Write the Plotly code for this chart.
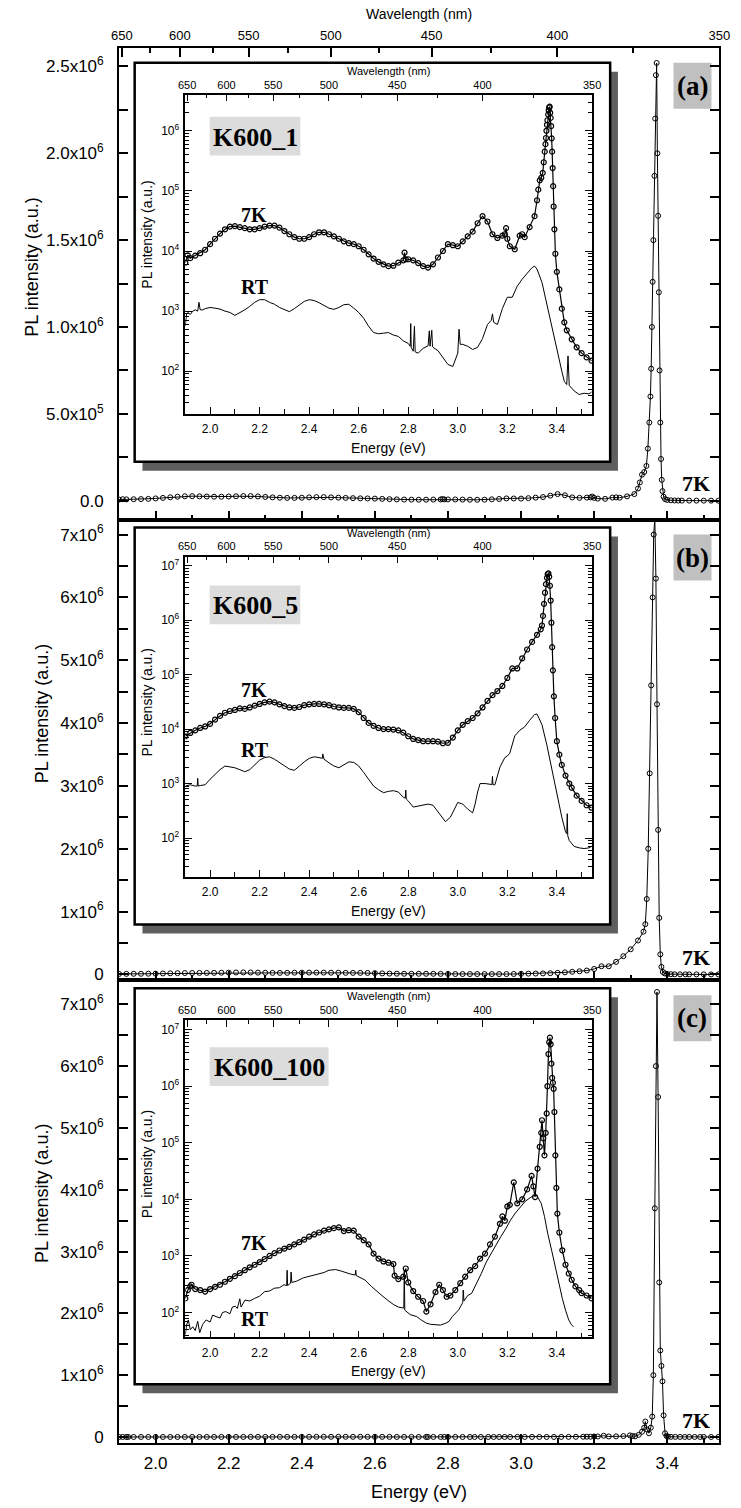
import plotly.graph_objects as go

HC = 1239.84  # eV * nm, converts photon energy to wavelength

# ---------------- PL spectra: (energy in eV, PL intensity in a.u.) ----------------
k600_1_7k = [
    (1.90, 6.4e3), (1.91, 8.5e3), (1.92, 7.6e3), (1.94, 8.4e3), (1.96, 9.2e3), (1.98, 1.05e4),
    (2.00, 1.3e4), (2.02, 1.6e4), (2.04, 1.95e4), (2.06, 2.3e4), (2.08, 2.55e4), (2.10, 2.6e4),
    (2.12, 2.5e4), (2.14, 2.4e4), (2.16, 2.3e4), (2.18, 2.3e4), (2.20, 2.4e4), (2.22, 2.55e4),
    (2.24, 2.65e4), (2.26, 2.65e4), (2.28, 2.45e4), (2.30, 2.15e4), (2.32, 1.9e4), (2.34, 1.7e4),
    (2.36, 1.6e4), (2.38, 1.6e4), (2.40, 1.7e4), (2.42, 1.9e4), (2.44, 2.05e4), (2.46, 2.05e4),
    (2.48, 1.9e4), (2.50, 1.75e4), (2.52, 1.6e4), (2.54, 1.45e4), (2.56, 1.35e4), (2.58, 1.3e4),
    (2.60, 1.2e4), (2.62, 1.05e4), (2.64, 8.8e3), (2.66, 7.5e3), (2.68, 6.6e3), (2.70, 6.0e3),
    (2.72, 5.6e3), (2.74, 5.7e3), (2.76, 6.4e3), (2.78, 7.0e3), (2.785, 9.4e3), (2.79, 7.3e3),
    (2.80, 7.3e3), (2.82, 7.0e3), (2.84, 6.3e3), (2.86, 5.6e3), (2.88, 5.3e3), (2.90, 6.0e3),
    (2.92, 7.8e3), (2.94, 1.0e4), (2.96, 1.3e4), (2.98, 1.25e4), (3.00, 1.2e4), (3.02, 1.45e4),
    (3.04, 1.75e4), (3.06, 2.1e4), (3.08, 2.9e4), (3.10, 3.8e4), (3.12, 3.1e4), (3.14, 1.9e4),
    (3.16, 1.65e4), (3.18, 1.8e4), (3.19, 1.9e4), (3.195, 2.4e4), (3.20, 1.6e4), (3.21, 1.2e4),
    (3.23, 1.07e4), (3.25, 1.8e4), (3.26, 1.9e4), (3.27, 1.7e4), (3.29, 2.5e4), (3.31, 3.8e4),
    (3.32, 7.0e4), (3.325, 1.05e5), (3.331, 1.5e5), (3.337, 1.65e5), (3.343, 2.0e5), (3.347, 3.0e5),
    (3.351, 4.5e5), (3.354, 6.0e5), (3.356, 7.6e5), (3.358, 1.0e6), (3.360, 1.26e6), (3.362, 1.5e6),
    (3.365, 1.87e6), (3.367, 2.2e6), (3.369, 2.45e6), (3.371, 2.52e6), (3.373, 2.0e6), (3.375, 1.64e6),
    (3.377, 1.2e6), (3.379, 7.5e5), (3.381, 4.5e5), (3.383, 2.4e5), (3.385, 1.2e5), (3.387, 5.5e4),
    (3.390, 2.3e4), (3.394, 9.0e3), (3.40, 4.5e3), (3.41, 2.3e3), (3.42, 1.1e3), (3.43, 6.5e2),
    (3.44, 4.8e2), (3.46, 3.4e2), (3.48, 2.5e2), (3.50, 2.0e2), (3.52, 1.7e2), (3.54, 1.5e2),
]
k600_1_rt = [
    (1.90, 570), (1.905, 900), (1.91, 950), (1.92, 880), (1.93, 1000), (1.94, 1050), (1.95, 1000),
    (1.955, 1400), (1.96, 1050), (1.97, 1050), (1.98, 1100), (2.00, 1150), (2.02, 1120), (2.04, 1080),
    (2.06, 1000), (2.08, 950), (2.10, 850), (2.12, 930), (2.14, 1050), (2.16, 1200), (2.18, 1400),
    (2.20, 1550), (2.22, 1550), (2.24, 1400), (2.26, 1300), (2.28, 1150), (2.30, 1050), (2.32, 980),
    (2.34, 1100), (2.36, 1280), (2.38, 1450), (2.40, 1550), (2.42, 1500), (2.44, 1380), (2.46, 1250),
    (2.48, 1120), (2.50, 1070), (2.52, 1150), (2.54, 1280), (2.56, 1300), (2.58, 1120), (2.60, 950),
    (2.62, 760), (2.64, 560), (2.66, 440), (2.68, 420), (2.70, 430), (2.72, 440), (2.74, 400),
    (2.76, 380), (2.78, 320), (2.80, 290), (2.808, 260), (2.81, 620), (2.812, 250), (2.82, 215),
    (2.825, 560), (2.828, 210), (2.84, 200), (2.86, 240), (2.88, 265), (2.885, 470), (2.888, 260),
    (2.895, 480), (2.898, 255), (2.90, 250), (2.92, 220), (2.94, 170), (2.96, 130), (2.98, 120),
    (3.00, 200), (3.005, 500), (3.01, 280), (3.02, 280), (3.04, 260), (3.06, 230), (3.08, 250),
    (3.10, 350), (3.12, 600), (3.135, 700), (3.14, 900), (3.145, 650), (3.16, 600), (3.18, 1100),
    (3.20, 1700), (3.22, 1700), (3.24, 2600), (3.26, 3400), (3.28, 4300), (3.30, 5300), (3.31, 5600),
    (3.32, 5000), (3.34, 3000), (3.36, 1250), (3.38, 580), (3.40, 230), (3.42, 100), (3.43, 68),
    (3.44, 60), (3.445, 180), (3.45, 58), (3.47, 47), (3.49, 41), (3.51, 43), (3.53, 42), (3.54, 45),
]
k600_5_7k = [
    (1.90, 7.4e3), (1.92, 8.5e3), (1.94, 9.5e3), (1.96, 1.05e4), (1.98, 1.12e4), (2.00, 1.25e4),
    (2.02, 1.5e4), (2.04, 1.75e4), (2.06, 2.0e4), (2.08, 2.15e4), (2.10, 2.25e4), (2.12, 2.4e4),
    (2.14, 2.35e4), (2.16, 2.5e4), (2.18, 2.7e4), (2.20, 2.9e4), (2.22, 3.1e4), (2.24, 3.2e4),
    (2.26, 3.1e4), (2.28, 2.85e4), (2.30, 2.65e4), (2.32, 2.5e4), (2.34, 2.45e4), (2.36, 2.55e4),
    (2.38, 2.75e4), (2.40, 2.85e4), (2.42, 2.9e4), (2.44, 2.9e4), (2.46, 2.85e4), (2.48, 2.75e4),
    (2.50, 2.6e4), (2.52, 2.5e4), (2.54, 2.45e4), (2.56, 2.45e4), (2.58, 2.35e4), (2.60, 2.05e4),
    (2.62, 1.6e4), (2.64, 1.3e4), (2.66, 1.15e4), (2.68, 1.05e4), (2.70, 1.0e4), (2.72, 1.0e4),
    (2.74, 9.8e3), (2.76, 9.5e3), (2.78, 8.6e3), (2.80, 7.4e3), (2.82, 6.6e3), (2.84, 6.3e3),
    (2.86, 6.0e3), (2.88, 6.0e3), (2.90, 6.0e3), (2.92, 5.9e3), (2.94, 5.5e3), (2.96, 5.6e3),
    (2.98, 7.0e3), (3.00, 9.5e3), (3.02, 1.2e4), (3.04, 1.4e4), (3.06, 1.6e4), (3.08, 1.95e4),
    (3.10, 2.5e4), (3.12, 3.3e4), (3.14, 4.2e4), (3.16, 5.0e4), (3.18, 6.2e4), (3.20, 8.7e4),
    (3.22, 1.3e5), (3.24, 1.3e5), (3.26, 2.0e5), (3.28, 2.9e5), (3.30, 4.0e5), (3.32, 5.4e5),
    (3.335, 6.8e5), (3.340, 8.0e5), (3.344, 1.2e6), (3.348, 2.0e6), (3.352, 3.2e6), (3.356, 4.6e6),
    (3.360, 6.0e6), (3.363, 7.0e6), (3.366, 7.25e6), (3.369, 6.3e6), (3.372, 4.3e6), (3.375, 2.3e6),
    (3.378, 9.0e5), (3.381, 3.2e5), (3.384, 1.2e5), (3.388, 4.0e4), (3.393, 1.6e4), (3.40, 6.0e3),
    (3.41, 3.4e3), (3.42, 2.2e3), (3.435, 1.4e3), (3.45, 1.0e3), (3.46, 840), (3.48, 600),
    (3.50, 480), (3.52, 400), (3.54, 360),
]
k600_5_rt = [
    (1.90, 900), (1.92, 950), (1.94, 900), (1.948, 900), (1.95, 1250), (1.952, 900), (1.96, 920),
    (1.98, 950), (2.00, 1200), (2.02, 1500), (2.04, 1800), (2.06, 2100), (2.08, 2050), (2.10, 1950),
    (2.12, 1800), (2.14, 1650), (2.16, 1800), (2.18, 2200), (2.20, 2700), (2.22, 3000), (2.24, 3100),
    (2.26, 2800), (2.28, 2450), (2.30, 2100), (2.32, 1850), (2.34, 1750), (2.36, 2100), (2.38, 2500),
    (2.40, 2900), (2.42, 3100), (2.44, 3000), (2.453, 2900), (2.455, 3500), (2.457, 2850), (2.46, 2800),
    (2.48, 2400), (2.50, 2100), (2.52, 1950), (2.54, 2200), (2.56, 2500), (2.58, 2450), (2.60, 2100),
    (2.62, 1600), (2.64, 1200), (2.66, 900), (2.68, 770), (2.70, 680), (2.72, 720), (2.74, 740),
    (2.76, 700), (2.78, 560), (2.788, 540), (2.79, 760), (2.792, 520), (2.80, 480), (2.82, 370),
    (2.84, 390), (2.86, 400), (2.88, 420), (2.90, 400), (2.92, 300), (2.94, 220), (2.95, 200),
    (2.97, 240), (2.99, 360), (3.00, 450), (3.02, 420), (3.04, 340), (3.06, 290), (3.07, 420),
    (3.08, 700), (3.09, 1000), (3.11, 1000), (3.13, 950), (3.138, 960), (3.14, 1350), (3.142, 950),
    (3.15, 950), (3.17, 2000), (3.19, 3000), (3.20, 3200), (3.21, 3600), (3.23, 7500), (3.25, 9500),
    (3.27, 1.1e4), (3.29, 1.45e4), (3.31, 1.85e4), (3.32, 1.9e4), (3.34, 1.2e4), (3.36, 5000),
    (3.38, 1800), (3.40, 650), (3.42, 240), (3.435, 130), (3.44, 120), (3.442, 280), (3.444, 110),
    (3.45, 90), (3.47, 70), (3.49, 66), (3.51, 64), (3.53, 66), (3.54, 70),
]
k600_100_7k = [
    (1.90, 178), (1.91, 250), (1.92, 290), (1.925, 310), (1.94, 260), (1.96, 250), (1.98, 235),
    (2.00, 260), (2.02, 285), (2.04, 310), (2.06, 350), (2.08, 395), (2.10, 440), (2.12, 500),
    (2.14, 560), (2.16, 630), (2.18, 700), (2.20, 780), (2.22, 880), (2.24, 1000), (2.26, 1120),
    (2.28, 1250), (2.30, 1350), (2.32, 1450), (2.34, 1600), (2.36, 1750), (2.38, 1950), (2.40, 2200),
    (2.42, 2400), (2.44, 2600), (2.46, 2800), (2.48, 2950), (2.50, 3100), (2.52, 3200), (2.54, 2750),
    (2.56, 2850), (2.58, 2800), (2.60, 2200), (2.62, 1900), (2.64, 1600), (2.66, 1100), (2.68, 900),
    (2.70, 800), (2.72, 760), (2.74, 720), (2.745, 450), (2.76, 390), (2.78, 430), (2.79, 600),
    (2.80, 340), (2.82, 240), (2.84, 190), (2.86, 160), (2.873, 104), (2.89, 140), (2.91, 230),
    (2.925, 310), (2.94, 250), (2.955, 190), (2.97, 200), (2.99, 250), (3.01, 330), (3.03, 430),
    (3.05, 560), (3.07, 660), (3.09, 900), (3.11, 1100), (3.13, 1600), (3.15, 2200), (3.17, 3700),
    (3.18, 5000), (3.19, 4200), (3.20, 7500), (3.21, 8000), (3.226, 2.0e4), (3.24, 8500),
    (3.26, 1.0e4), (3.28, 1.5e4), (3.298, 2.6e4), (3.305, 1.7e4), (3.312, 1.1e4), (3.322, 3.5e4),
    (3.331, 8.5e4), (3.337, 1.5e5), (3.340, 2.5e5), (3.345, 1.2e5), (3.350, 6.0e4), (3.355, 1.5e5),
    (3.359, 3.3e5), (3.362, 1.0e6), (3.366, 3.7e6), (3.369, 6.0e6), (3.372, 7.2e6), (3.375, 5.5e6),
    (3.378, 2.5e6), (3.381, 1.4e6), (3.384, 1.15e6), (3.387, 9.0e5), (3.390, 3.5e5), (3.394, 6.0e4),
    (3.398, 1.6e4), (3.402, 5600), (3.41, 2600), (3.422, 1260), (3.435, 700), (3.448, 490),
    (3.46, 380), (3.475, 290), (3.49, 250), (3.50, 220), (3.52, 200), (3.54, 178),
]
k600_100_rt = [
    (1.90, 41), (1.905, 60), (1.912, 74), (1.92, 50), (1.93, 56), (1.94, 48), (1.95, 70), (1.958, 44),
    (1.97, 62), (1.984, 74), (2.00, 68), (2.01, 90), (2.024, 85), (2.04, 80), (2.05, 100), (2.063, 104),
    (2.08, 95), (2.09, 125), (2.102, 129), (2.11, 118), (2.12, 175), (2.125, 125), (2.141, 166),
    (2.16, 160), (2.18, 178), (2.20, 195), (2.22, 234), (2.24, 240), (2.259, 269), (2.28, 275),
    (2.298, 310), (2.309, 300), (2.311, 560), (2.313, 300), (2.325, 330), (2.327, 520), (2.33, 340),
    (2.35, 360), (2.376, 410), (2.40, 440), (2.43, 480), (2.46, 510), (2.48, 560), (2.507, 575),
    (2.53, 540), (2.546, 510), (2.566, 480), (2.586, 460), (2.588, 560), (2.59, 450), (2.61, 410),
    (2.625, 377), (2.651, 290), (2.67, 250), (2.69, 206), (2.716, 166), (2.742, 137), (2.76, 125),
    (2.782, 120), (2.784, 560), (2.786, 110), (2.808, 92), (2.834, 85), (2.85, 75), (2.873, 65),
    (2.89, 62), (2.912, 60), (2.93, 60), (2.952, 65), (2.965, 70), (2.978, 85), (3.004, 112),
    (3.02, 150), (3.022, 250), (3.025, 160), (3.04, 200), (3.056, 218), (3.075, 320), (3.095, 490),
    (3.115, 780), (3.135, 1120), (3.155, 1600), (3.174, 2200), (3.195, 3100), (3.213, 4300),
    (3.232, 5700), (3.252, 7400), (3.272, 9200), (3.292, 1.07e4), (3.305, 1.15e4), (3.318, 1.18e4),
    (3.337, 8500), (3.35, 5000), (3.363, 2500), (3.38, 1200), (3.396, 565), (3.41, 300), (3.422, 178),
    (3.435, 110), (3.448, 74), (3.458, 62), (3.467, 56),
]

sample_names = ["K600_1", "K600_5", "K600_100"]
panel_tags = ["(a)", "(b)", "(c)"]
spectra_7k = [k600_1_7k, k600_5_7k, k600_100_7k]
spectra_rt = [k600_1_rt, k600_5_rt, k600_100_rt]

# ---------------- tick labels ----------------
wl_major = [650, 600, 550, 500, 450, 400, 350]
wl_minor = [625, 575, 525, 475, 425, 375]
main_tickvals = [
    [0, 5e5, 1e6, 1.5e6, 2e6, 2.5e6],
    [0, 1e6, 2e6, 3e6, 4e6, 5e6, 6e6, 7e6],
    [0, 1e6, 2e6, 3e6, 4e6, 5e6, 6e6, 7e6],
]
main_ticktext = [
    ["0.0", "5.0x10<sup>5</sup>", "1.0x10<sup>6</sup>", "1.5x10<sup>6</sup>",
     "2.0x10<sup>6</sup>", "2.5x10<sup>6</sup>"],
    ["0"] + [f"{k}x10<sup>6</sup>" for k in range(1, 8)],
    ["0"] + [f"{k}x10<sup>6</sup>" for k in range(1, 8)],
]
main_minorvals = [
    [2.5e5, 7.5e5, 1.25e6, 1.75e6, 2.25e6],
    [5e5, 1.5e6, 2.5e6, 3.5e6, 4.5e6, 5.5e6, 6.5e6],
    [5e5, 1.5e6, 2.5e6, 3.5e6, 4.5e6, 5.5e6, 6.5e6],
]
inset_tickvals = [1e2, 1e3, 1e4, 1e5, 1e6, 1e7]
inset_ticktext = [f"10<sup>{d}</sup>" for d in range(2, 8)]
inset_minorvals = [k * 10 ** d for d in range(1, 8) for k in range(2, 10)]

# ---------------- page geometry (pixels) ----------------
W, H = 741, 1508
SANS = "Liberation Sans, Arial, sans-serif"
SERIF = "Liberation Serif, Times New Roman, serif"


def fx(px):
    return px / W


def fy(py):
    return 1 - py / H


E_RANGE = [1.9, HC / 350]
MAIN_X = (114, 730)
MAIN_Y = [(48, 521), (521, 983), (983, 1447)]
MAIN_YRANGE = [(-0.109e6, 2.607e6), (-0.095e6, 7.238e6), (-0.10e6, 7.387e6)]
MAIN_YTITLE = [(25, 268), (35, 716), (35, 1197)]
TAG_BOX = [(683, 63, 722, 109), (683, 536, 722, 582), (683, 998, 722, 1044)]
MAIN_7K = [(706, 485), (706, 960), (706, 1424)]

INSET_BOX = [(130, 63, 618, 463), (130, 529, 618, 927), (130, 991, 618, 1388)]
INSET_X = (182, 599.5)
INSET_Y = [(95, 415), (558, 879), (1022.7, 1341)]
INSET_LOGRANGE = [(1.29, 6.6), (1.29, 7.17), (1.56, 7.17)]
INSET_YTITLE = [235, 704, 1167]
NAME_BOX = [(207, 117, 300, 156), (207, 587, 300, 626), (207, 1050, 329, 1089)]
INSET_7K = [(252, 216), (252, 692), (252, 1246)]
INSET_RT = [(253, 288), (253, 752), (253, 1323)]

SHADOW = "#5f5f5f"


def axname(prefix, n):
    return prefix if n == 1 else f"{prefix}{n}"


def axkey(prefix, n):
    return f"{prefix}axis" if n == 1 else f"{prefix}axis{n}"


fig = go.Figure()
layout = {}
shapes = []
annotations = []


def text(s, x, y, size, family=SANS, bold=False, angle=0):
    annotations.append(dict(
        text=s, x=fx(x), y=fy(y), xref="paper", yref="paper", showarrow=False,
        xanchor="center", yanchor="middle", textangle=angle,
        font=dict(size=size, family=family, color="black", weight="bold" if bold else "normal"),
    ))


def rect(x0, y0, x1, y1, fill, line_w=0):
    shapes.append(dict(
        type="rect", xref="paper", yref="paper", layer="below",
        x0=fx(x0), x1=fx(x1), y0=fy(y1), y1=fy(y0), fillcolor=fill,
        line=dict(color="black", width=line_w) if line_w else dict(width=0),
    ))


# ---------------- main panels: linear intensity, 7K spectra ----------------
for i in range(3):
    n = i + 1
    e = [p[0] for p in spectra_7k[i]]
    v = [p[1] for p in spectra_7k[i]]
    fig.add_trace(go.Scatter(
        x=e, y=v, xaxis=axname("x", n), yaxis=axname("y", n), mode="lines+markers",
        line=dict(color="black", width=1),
        marker=dict(symbol="circle-open", size=5, color="black", line=dict(width=1)),
        showlegend=False, hoverinfo="skip",
    ))
    top, bot = MAIN_Y[i]
    layout[axkey("x", n)] = dict(
        domain=[fx(MAIN_X[0]), fx(MAIN_X[1])], range=E_RANGE, anchor=axname("y", n),
        showline=True, linecolor="black", linewidth=2, mirror=True,
        ticks="inside", ticklen=9, tickwidth=1.5, tickcolor="black",
        tickmode="linear", tick0=2.0, dtick=0.2,
        minor=dict(ticks="inside", ticklen=5, tickwidth=1.5, tickcolor="black", tick0=2.0, dtick=0.1),
        showticklabels=(i == 2), tickformat=".1f", ticklabelstandoff=3,
        tickfont=dict(size=17, family=SANS, color="black"),
        showgrid=False, zeroline=False,
    )
    layout[axkey("y", n)] = dict(
        domain=[fy(bot), fy(top)], range=list(MAIN_YRANGE[i]), anchor=axname("x", n),
        showline=True, linecolor="black", linewidth=2, mirror="ticks",
        ticks="inside", ticklen=9, tickwidth=1.5, tickcolor="black",
        tickmode="array", tickvals=main_tickvals[i], ticktext=main_ticktext[i],
        minor=dict(ticks="inside", ticklen=9, tickwidth=1.5, tickcolor="black",
                   tickmode="array", tickvals=main_minorvals[i]),
        ticklabelstandoff=10, tickfont=dict(size=17, family=SANS, color="black"),
        showgrid=False, zeroline=False,
    )
    text("PL intensity (a.u.)", MAIN_YTITLE[i][0], MAIN_YTITLE[i][1], 18, angle=-90)
    bx = TAG_BOX[i]
    rect(bx[0], bx[1], bx[2], bx[3], "#c0c0c0")
    text(panel_tags[i], (bx[0] + bx[2]) / 2, (bx[1] + bx[3]) / 2, 27, SERIF, bold=True)
    text("7K", MAIN_7K[i][0], MAIN_7K[i][1], 22, SERIF, bold=True)

# top wavelength scale of the upper panel
fig.add_trace(go.Scatter(x=[], y=[], xaxis="x4", yaxis="y", showlegend=False, hoverinfo="skip"))
layout["xaxis4"] = dict(
    overlaying="x", side="top", anchor="y", range=E_RANGE,
    showline=True, linecolor="black", linewidth=2,
    ticks="inside", ticklen=9, tickwidth=1.5, tickcolor="black",
    tickmode="array", tickvals=[HC / w for w in wl_major], ticktext=[str(w) for w in wl_major],
    minor=dict(ticks="inside", ticklen=5, tickwidth=1.5, tickcolor="black",
               tickmode="array", tickvals=[HC / w for w in wl_minor]),
    ticklabelstandoff=1, tickfont=dict(size=13, family=SANS, color="black"),
    showgrid=False, zeroline=False,
)
text("Wavelength (nm)", 422, 14, 14)
text("Energy (eV)", 422, 1496, 18)

# ---------------- insets: log intensity, 7K and RT ----------------
for i in range(3):
    xb, xt, yn = 5 + 2 * i, 6 + 2 * i, 4 + i
    bx = INSET_BOX[i]
    rect(bx[0] + 8, bx[1] + 9, bx[2] + 8, bx[3] + 9, SHADOW)
    rect(bx[0], bx[1], bx[2], bx[3], "white", line_w=2.5)

    e7 = [p[0] for p in spectra_7k[i]]
    v7 = [p[1] for p in spectra_7k[i]]
    er = [p[0] for p in spectra_rt[i]]
    vr = [p[1] for p in spectra_rt[i]]
    fig.add_trace(go.Scatter(
        x=er, y=vr, xaxis=axname("x", xb), yaxis=axname("y", yn), mode="lines",
        line=dict(color="black", width=1), showlegend=False, hoverinfo="skip",
    ))
    fig.add_trace(go.Scatter(
        x=e7, y=v7, xaxis=axname("x", xb), yaxis=axname("y", yn), mode="lines+markers",
        line=dict(color="black", width=1.2),
        marker=dict(symbol="circle-open", size=5, color="black", line=dict(width=1.2)),
        showlegend=False, hoverinfo="skip",
    ))
    fig.add_trace(go.Scatter(x=[], y=[], xaxis=axname("x", xt), yaxis=axname("y", yn),
                             showlegend=False, hoverinfo="skip"))

    top, bot = INSET_Y[i]
    layout[axkey("x", xb)] = dict(
        domain=[fx(INSET_X[0]), fx(INSET_X[1])], range=E_RANGE, anchor=axname("y", yn),
        showline=True, linecolor="black", linewidth=1.5, mirror=True,
        ticks="inside", ticklen=7, tickwidth=1, tickcolor="black",
        tickmode="linear", tick0=2.0, dtick=0.2, tickformat=".1f",
        minor=dict(ticks="inside", ticklen=5, tickwidth=1, tickcolor="black", tick0=2.0, dtick=0.1),
        ticklabelstandoff=3, tickfont=dict(size=12, family=SANS, color="black"),
        showgrid=False, zeroline=False,
    )
    layout[axkey("x", xt)] = dict(
        overlaying=axname("x", xb), side="top", anchor=axname("y", yn), range=E_RANGE,
        showline=True, linecolor="black", linewidth=1.5,
        ticks="inside", ticklen=7, tickwidth=1, tickcolor="black",
        tickmode="array", tickvals=[HC / w for w in wl_major], ticktext=[str(w) for w in wl_major],
        minor=dict(ticks="inside", ticklen=4, tickwidth=1, tickcolor="black",
                   tickmode="array", tickvals=[HC / w for w in wl_minor]),
        ticklabelstandoff=0, tickfont=dict(size=11, family=SANS, color="black"),
        showgrid=False, zeroline=False,
    )
    layout[axkey("y", yn)] = dict(
        type="log", domain=[fy(bot), fy(top)], range=list(INSET_LOGRANGE[i]), anchor=axname("x", xb),
        showline=True, linecolor="black", linewidth=1.5, mirror="ticks",
        ticks="inside", ticklen=7, tickwidth=1, tickcolor="black",
        tickmode="array", tickvals=inset_tickvals, ticktext=inset_ticktext,
        minor=dict(ticks="inside", ticklen=4, tickwidth=1, tickcolor="black",
                   tickmode="array", tickvals=inset_minorvals),
        ticklabelstandoff=2, tickfont=dict(size=12, family=SANS, color="black"),
        showgrid=False, zeroline=False,
    )
    cx = (INSET_X[0] + INSET_X[1]) / 2
    text("Wavelength (nm)", cx, top - 24, 11)
    text("Energy (eV)", cx, bot + 34, 14)
    text("PL intensity (a.u.)", 143, INSET_YTITLE[i], 14, angle=-90)
    nb = NAME_BOX[i]
    rect(nb[0], nb[1], nb[2], nb[3], "#dcdcdc")
    text(sample_names[i], (nb[0] + nb[2]) / 2, (nb[1] + nb[3]) / 2 + 1, 26, SERIF, bold=True)
    text("7K", INSET_7K[i][0], INSET_7K[i][1], 20, SERIF, bold=True)
    text("RT", INSET_RT[i][0], INSET_RT[i][1], 20, SERIF, bold=True)

fig.update_layout(
    width=W, height=H, margin=dict(l=0, r=0, t=0, b=0, pad=0),
    paper_bgcolor="white", plot_bgcolor="rgba(0,0,0,0)",
    showlegend=False, shapes=shapes, annotations=annotations,
    font=dict(family=SANS, color="black"),
    **layout,
)

fig.write_html("out.html")
